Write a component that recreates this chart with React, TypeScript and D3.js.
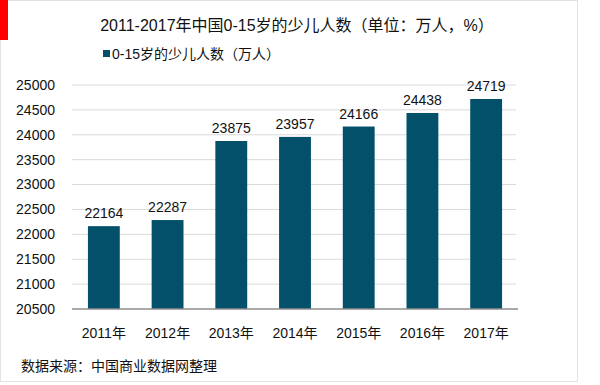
import * as d3 from "d3"

const years = ["2011年", "2012年", "2013年", "2014年", "2015年", "2016年", "2017年"]
const children = [22164, 22287, 23875, 23957, 24166, 24438, 24719]
const yTicks = [20500, 21000, 21500, 22000, 22500, 23000, 23500, 24000, 24500, 25000]

const title = "2011-2017年中国0-15岁的少儿人数（单位：万人，%）"
const legendLabel = "0-15岁的少儿人数（万人）"
const source = "数据来源：中国商业数据网整理"

export default function App() {
    const width = 600
    const height = 385
    const marginLeft = 72
    const marginRight = 82
    const plotTop = 85
    const plotBottom = 309
    const font = "'Liberation Sans', Arial, 'Noto Sans CJK SC', sans-serif"
    const barColor = "#02506a"

    const x = d3.scaleBand(years, [marginLeft, width - marginRight]).paddingInner(0.5).paddingOuter(0.25)
    const y = d3.scaleLinear([20500, 25000], [plotBottom, plotTop])

    return (
        <svg width={width} height={height} style={{ position: "absolute", left: 0, top: 0 }} fontFamily={font}>
            <rect x={0} y={0} width={width} height={height} fill="white" />
            {/* frame */}
            <rect x={0.5} y={0.5} width={577} height={381} fill="none" stroke="#e3e3e3" />
            <rect x={0} y={0} width={8} height={40} fill="#ff0000" />

            <text x={297} y={31} textAnchor="middle" fontSize={16} fill="#111">{title}</text>

            {/* legend */}
            <rect x={103} y={50} width={7} height={7} fill={barColor} />
            <text x={112} y={58.5} fontSize={14} fill="#111">{legendLabel}</text>

            {/* grid + y axis */}
            {yTicks.map(t => (
                <g key={t}>
                    {t !== 20500 && (
                        <line x1={marginLeft} x2={width - marginRight - 2} y1={y(t)} y2={y(t)} stroke="#d9d9d9" strokeWidth={1} />
                    )}
                    <text x={55} y={y(t)} dy="0.35em" textAnchor="end" fontSize={14} fill="#111">{t}</text>
                </g>
            ))}

            {/* bars */}
            {children.map((v, i) => (
                <g key={years[i]}>
                    <rect x={x(years[i])} y={y(v)} width={x.bandwidth()} height={y(20500) - y(v)} fill={barColor} />
                    <text x={x(years[i])! + x.bandwidth() / 2} y={y(v) - 8} textAnchor="middle" fontSize={14} fill="#111">{v}</text>
                </g>
            ))}

            <line x1={marginLeft} x2={width - marginRight} y1={plotBottom} y2={plotBottom} stroke="#8c8c8c" strokeWidth={1.5} />

            {/* x labels */}
            {years.map(yr => (
                <text key={yr} x={x(yr)! + x.bandwidth() / 2} y={338} textAnchor="middle" fontSize={14} fill="#111">{yr}</text>
            ))}

            <text x={21} y={371} fontSize={14} fill="#111">{source}</text>
        </svg>
    )
}
